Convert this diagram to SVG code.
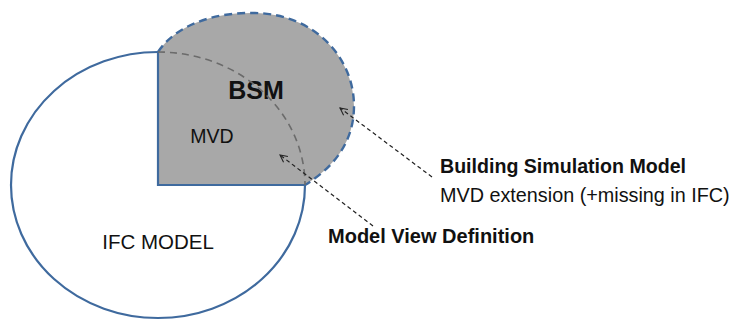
<svg xmlns="http://www.w3.org/2000/svg" width="737" height="321" viewBox="0 0 737 321">
<style>
.blue{fill:none;stroke:#3F6A9E;stroke-width:2.2}
.bsmedge{fill:none;stroke:#3F6A9E;stroke-width:2.4;stroke-dasharray:8,5}
.inner{fill:none;stroke:#6B6B6B;stroke-width:1.6;stroke-dasharray:7,5}
.conn{fill:none;stroke:#222;stroke-width:1.2;stroke-dasharray:4,3}
.t{font-family:"Liberation Sans",Arial,sans-serif;fill:#111}
.b{font-weight:bold}
</style>
<defs>
<marker id="open" viewBox="0 0 10 10" refX="9" refY="5" markerWidth="9" markerHeight="9" orient="auto" markerUnits="userSpaceOnUse">
<path d="M1,1 L9,5 L1,9" fill="none" stroke="#222" stroke-width="1.2"/>
</marker>
</defs>
<rect width="737" height="321" fill="#fff"/>
<g id="bsm">
<path d="M158,52 C176,25 214,12 255,13 C315,14 354,58 354,106 C354,140 336,166 305,185 L158,185 Z" fill="#A8A8A8"/>
<path class="bsmedge" d="M158,52 C176,25 214,12 255,13 C315,14 354,58 354,106 C354,140 336,166 305,185"/>
<text class="t b" x="256" y="99" font-size="25" text-anchor="middle">BSM</text>
</g>
<g id="ifc-model">
<path class="blue" d="M158,52 A147,133 0 1 0 305,185"/>
<text class="t" x="158" y="249" font-size="20.5" text-anchor="middle">IFC MODEL</text>
</g>
<g id="mvd">
<path class="blue" d="M158,52 L158,185 L305,185"/>
<path class="inner" d="M158,52 A147,133 0 0 1 305,185"/>
<text class="t" x="212" y="143" font-size="19.5" text-anchor="middle">MVD</text>
</g>
<g id="connectors">
<path class="conn" d="M432,177 L340,108" marker-end="url(#open)"/>
<path class="conn" d="M373,226 L280,155" marker-end="url(#open)"/>
</g>
<g id="label-bsm">
<text class="t b" x="440" y="173" font-size="19.6">Building Simulation Model</text>
<text class="t" x="440" y="202" font-size="19.8">MVD extension (+missing in IFC)</text>
</g>
<g id="label-mvd">
<text class="t b" x="328" y="243" font-size="20">Model View Definition</text>
</g>
</svg>
